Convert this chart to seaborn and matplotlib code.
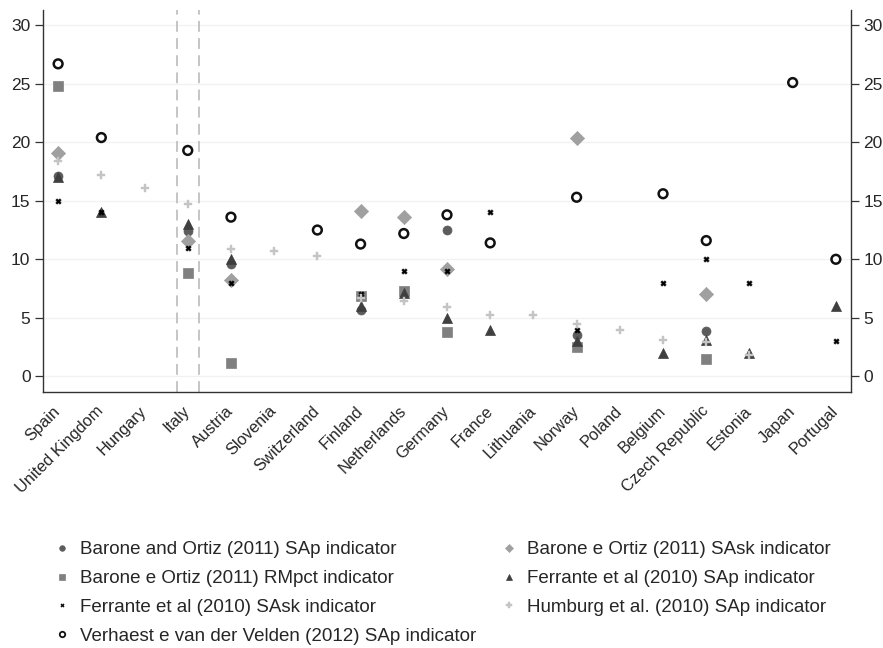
import numpy as np
import pandas as pd
import matplotlib
matplotlib.use("Agg")
import matplotlib.pyplot as plt
import seaborn as sns
from matplotlib.lines import Line2D

countries = ["Spain", "United Kingdom", "Hungary", "Italy", "Austria", "Slovenia",
             "Switzerland", "Finland", "Netherlands", "Germany", "France", "Lithuania",
             "Norway", "Poland", "Belgium", "Czech Republic", "Estonia", "Japan", "Portugal"]

nan = np.nan
barone_sap = [17.1, nan, nan, 12.4, 9.6, nan, nan, 5.7, nan, 12.5, nan, nan,
              3.5, nan, nan, 3.9, nan, nan, nan]
barone_sask = [19.1, nan, nan, 11.6, 8.2, nan, nan, 14.1, 13.6, 9.2, nan, nan,
               20.4, nan, nan, 7.0, nan, nan, nan]
barone_rmpct = [24.8, nan, nan, 8.8, 1.1, nan, nan, 6.9, 7.3, 3.8, nan, nan,
                2.5, nan, nan, 1.5, nan, nan, nan]
ferrante_sap = [17.0, 14.0, nan, 13.0, 10.0, nan, nan, 6.0, 7.1, 5.0, 4.0, nan,
                3.0, nan, 2.0, 3.1, 2.0, nan, 6.0]
ferrante_sask = [15.0, 14.0, nan, 11.0, 8.0, nan, nan, 7.0, 9.0, 9.0, 14.0, nan,
                 4.0, nan, 8.0, 10.0, 8.0, nan, 3.0]
humburg_sap = [18.4, 17.2, 16.1, 14.7, 10.9, 10.7, 10.3, 6.7, 6.4, 5.9, 5.2, 5.2,
               4.5, 4.0, 3.1, 2.9, 1.8, nan, nan]
verhaest_sap = [26.7, 20.4, nan, 19.3, 13.6, nan, 12.5, 11.3, 12.2, 13.8, 11.4, nan,
                15.3, nan, 15.6, 11.6, nan, 25.1, 10.0]

series_labels = [
    "Barone and Ortiz (2011) SAp indicator",
    "Barone e Ortiz (2011) SAsk indicator",
    "Barone e Ortiz (2011) RMpct indicator",
    "Ferrante et al (2010) SAp indicator",
    "Ferrante et al (2010) SAsk indicator",
    "Humburg et al. (2010) SAp indicator",
    "Verhaest e van der Velden (2012) SAp indicator",
]
series_values = [barone_sap, barone_sask, barone_rmpct, ferrante_sap,
                 ferrante_sask, humburg_sap, verhaest_sap]
highlight = "Italy"
yticks = [0, 5, 10, 15, 20, 25, 30]

rows = []
for lab, vals in zip(series_labels, series_values):
    for i, (c, v) in enumerate(zip(countries, vals)):
        if not np.isnan(v):
            rows.append({"country": c, "pos": i, "series": lab, "value": v})
df = pd.DataFrame(rows)

sns.set_style("white")
plt.rcParams["font.family"] = ["Liberation Sans", "DejaVu Sans"]

# marker style per series
styles = {
    series_labels[0]: dict(marker="o", s=42, color="#5c5c5c", edgecolor="#5c5c5c", linewidth=0.5),
    series_labels[1]: dict(marker="D", s=52, color="#a0a0a0", edgecolor="#a0a0a0", linewidth=0.5),
    series_labels[2]: dict(marker="s", s=48, color="#808080", edgecolor="#808080", linewidth=0.5),
    series_labels[3]: dict(marker="^", s=52, color="#3f3f3f", edgecolor="#3f3f3f", linewidth=0.5),
    series_labels[4]: dict(marker="X", s=16, color="#000000", edgecolor="#000000", linewidth=0.3),
    series_labels[5]: dict(marker="P", s=36, color="#c4c4c4", edgecolor="#c4c4c4", linewidth=0.3),
    series_labels[6]: dict(marker="o", s=40, color="none", edgecolor="#111111", linewidth=1.8),
}

fig = plt.figure(figsize=(8.83, 6.48), dpi=100)
ax = fig.add_axes([43 / 883, 1 - 392 / 648, (851 - 43) / 883, (392 - 10) / 648])

for y in yticks:
    ax.axhline(y, color="#f2f2f2", lw=1.0, zorder=0)

ipos = countries.index(highlight)
for dx in (-0.255, 0.255):
    ax.axvline(ipos + dx, color="#c0c0c0", lw=1.3, ls=(0, (6, 3.5)), zorder=1)

for lab in series_labels:
    sub = df[df["series"] == lab]
    st = styles[lab]
    sns.scatterplot(data=sub, x="pos", y="value", ax=ax, marker=st["marker"], s=st["s"],
                    color=st["color"] if st["color"] != "none" else "white",
                    facecolor=st["color"], edgecolor=st["edgecolor"],
                    linewidth=st["linewidth"], legend=False, zorder=3)

ax.set_xlim(-0.35, len(countries) - 1 + 0.35)
ax.set_ylim(-1.34, 31.3)
ax.set_xticks(range(len(countries)))
ax.set_xticklabels(countries, rotation=45, ha="right", va="center",
                   rotation_mode="anchor", fontsize=11.8)
ax.set_yticks(yticks)
ax.set_yticklabels([str(t) for t in yticks], fontsize=12.5)
ax.set_xlabel("")
ax.set_ylabel("")
ax.tick_params(axis="y", which="both", left=True, right=True, labelleft=True, labelright=True,
               length=6, width=0.9, color="#333333", pad=3)
ax.tick_params(axis="x", length=7, width=0.9, color="#333333", pad=5)
for side in ("left", "right", "bottom"):
    ax.spines[side].set_visible(True)
    ax.spines[side].set_color("#333333")
    ax.spines[side].set_linewidth(1.0)
ax.spines["top"].set_visible(False)


def legend_handle(k):
    st = styles[series_labels[k]]
    ms = np.sqrt(st["s"]) * 0.62
    hollow = st["color"] == "none"
    return Line2D([], [], ls="none", marker=st["marker"], markersize=ms,
                  markerfacecolor=st["color"], markeredgecolor=st["edgecolor"],
                  markeredgewidth=1.3 if hollow else st["linewidth"],
                  label=series_labels[k])


legend_kw = dict(loc="upper left", frameon=False, fontsize=13.5, handlelength=0.9,
                 handletextpad=0.5, labelspacing=0.63, borderaxespad=0, borderpad=0)
fig.legend(handles=[legend_handle(k) for k in (0, 2, 4, 6)],
           bbox_to_anchor=(54 / 883, 1 - 541 / 648), **legend_kw)
fig.legend(handles=[legend_handle(k) for k in (1, 3, 5)],
           bbox_to_anchor=(501 / 883, 1 - 541 / 648), **legend_kw)

fig.savefig("out.png", dpi=100, facecolor="white")
